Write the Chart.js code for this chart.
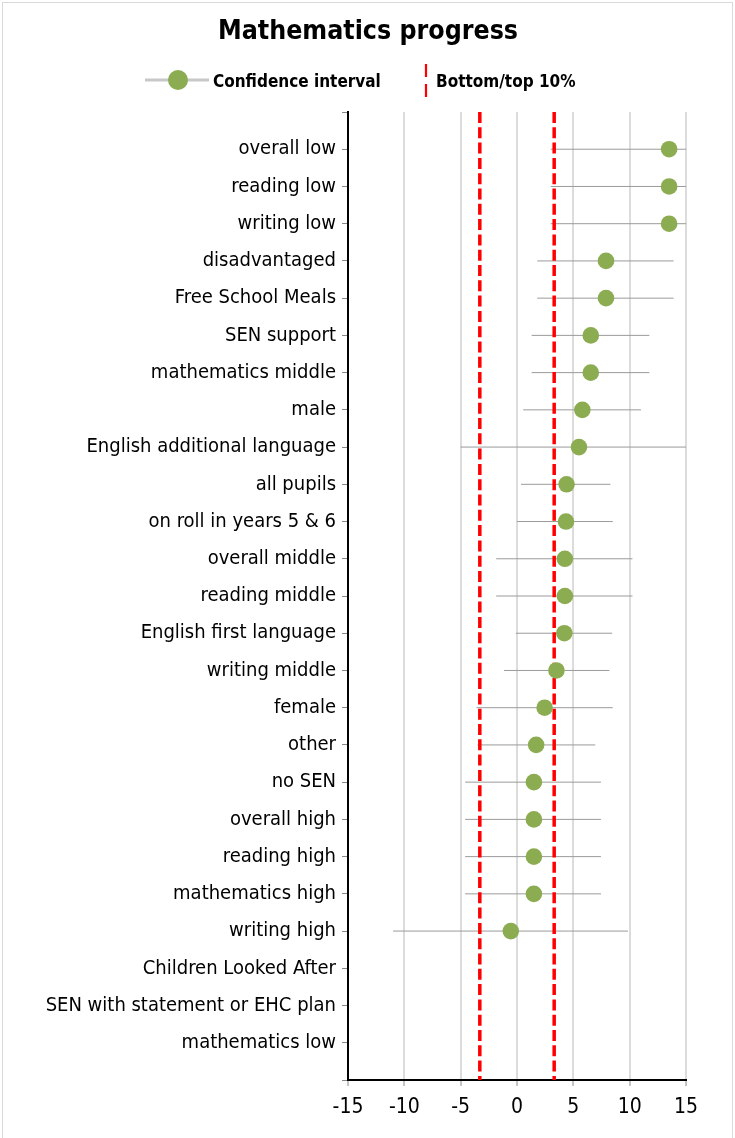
<!DOCTYPE html>
<html><head><meta charset="utf-8">
<script src="https://cdn.jsdelivr.net/npm/chart.js@4/dist/chart.umd.min.js"></script>
<style>html,body{margin:0;padding:0;background:#fff;}#wrap{position:relative;width:735px;height:1138px;}</style>
</head><body><div id="wrap"><canvas id="c" width="735" height="1138"></canvas></div>
<script>
const categories = ["overall low","reading low","writing low","disadvantaged","Free School Meals","SEN support","mathematics middle","male","English additional language","all pupils","on roll in years 5 & 6","overall middle","reading middle","English first language","writing middle","female","other","no SEN","overall high","reading high","mathematics high","writing high","Children Looked After","SEN with statement or EHC plan","mathematics low"];
const estimates = [13.5,13.5,13.5,7.9,7.9,6.55,6.55,5.8,5.5,4.4,4.35,4.25,4.25,4.2,3.5,2.45,1.7,1.5,1.5,1.5,1.5,-0.55,null,null,null];
const ciLower = [3.0,3.0,3.0,1.8,1.8,1.3,1.3,0.55,-5.0,0.35,0.0,-1.85,-1.85,-0.1,-1.15,-3.6,-3.5,-4.6,-4.6,-4.6,-4.6,-11.0,null,null,null];
const ciUpper = [15,15,15,13.9,13.9,11.75,11.75,11.0,15,8.3,8.5,10.25,10.25,8.45,8.2,8.5,6.95,7.45,7.45,7.45,7.45,9.85,null,null,null];
const thresholds = [-3.3, 3.3];
const xTickValues = [-15,-10,-5,0,5,10,15];
const titleText = "Mathematics progress";
const legendLabels = ["Confidence interval","Bottom/top 10%"];

const FONT = "'DejaVu Sans Condensed','DejaVu Sans',sans-serif";
const GREEN = '#8CAC52';
const nRows = categories.length;

const datasets = [];
// confidence interval segments
categories.forEach((c,i)=>{
  if (ciLower[i]==null) return;
  datasets.push({type:'line', data:[{x:ciLower[i],y:i+1},{x:ciUpper[i],y:i+1}], borderColor:'#9a9a9a', borderWidth:1, pointRadius:0, fill:false, order:3});
});
// thresholds
thresholds.forEach(t=>{
  datasets.push({type:'line', data:[{x:t,y:0},{x:t,y:nRows+1}], borderColor:'#ff0000', borderWidth:3.5, borderDash:[11,4.3], pointRadius:0, fill:false, order:2});
});
// estimates
datasets.push({type:'scatter', data: estimates.map((v,i)=> v==null?null:{x:v,y:i+1}).filter(p=>p), backgroundColor:GREEN, borderColor:GREEN, borderWidth:0, pointRadius:8.3, order:1});

const decor = {
  id:'decor',
  beforeDraw(chart){
    const ctx = chart.ctx;
    ctx.save();
    ctx.fillStyle='#fff'; ctx.fillRect(0,0,chart.width,chart.height);
    ctx.strokeStyle='#dadada'; ctx.lineWidth=1;
    ctx.strokeRect(2.5,2.5,730,1150);
    ctx.restore();
  },
  afterDraw(chart){
    const ctx = chart.ctx;
    ctx.save();
    ctx.fillStyle='#000';
    ctx.textAlign='center'; ctx.textBaseline='alphabetic';
    ctx.font = "bold 26.5px "+FONT;
    ctx.fillText(titleText, 368, 39);
    // legend item 1
    ctx.strokeStyle='#c8c8c8'; ctx.lineWidth=3;
    ctx.beginPath(); ctx.moveTo(145,80); ctx.lineTo(209,80); ctx.stroke();
    ctx.fillStyle=GREEN; ctx.beginPath(); ctx.arc(178,80,10,0,Math.PI*2); ctx.fill();
    ctx.fillStyle='#000'; ctx.textAlign='left';
    ctx.font = "bold 17px "+FONT;
    ctx.fillText(legendLabels[0], 213, 87);
    // legend item 2
    ctx.strokeStyle='#ff0000'; ctx.lineWidth=2.2; ctx.setLineDash([13,7]);
    ctx.beginPath(); ctx.moveTo(426,64); ctx.lineTo(426,98); ctx.stroke();
    ctx.setLineDash([]);
    ctx.fillText(legendLabels[1], 436, 87);
    ctx.restore();
  }
};

new Chart(document.getElementById('c'), {
  type:'scatter',
  data:{datasets},
  plugins:[decor],
  options:{
    responsive:false, animation:false, devicePixelRatio:1,
    layout:{padding:{top:112,right:49,left:0,bottom:0}},
    plugins:{legend:{display:false}, title:{display:false}, tooltip:{enabled:false}},
    scales:{
      x:{type:'linear', min:-15, max:15,
        afterBuildTicks(s){ s.ticks = xTickValues.map(v=>({value:v})); },
        afterFit(s){ s.height=58; s.paddingLeft=0; s.paddingRight=0; },
        grid:{color:'#dcdcdc', lineWidth:2, drawTicks:true, tickLength:6, tickColor:'#888', tickWidth:1},
        border:{color:'#000', width:2},
        ticks:{font:{family:FONT,size:21}, color:'#000', padding:9, maxRotation:0}
      },
      y:{type:'linear', min:0, max:nRows+1, reverse:true,
        afterBuildTicks(s){ const t=[]; for(let i=0;i<=nRows+1;i++) t.push({value:i}); s.ticks=t; },
        afterFit(s){ s.width=348; s.paddingTop=0; s.paddingBottom=0; },
        grid:{drawOnChartArea:false, drawTicks:true, tickLength:6, tickColor:'#888', tickWidth:1},
        border:{color:'#000', width:2},
        ticks:{autoSkip:false, font:{family:FONT,size:20}, color:'#000', padding:6,
          callback:(v)=> (v>=1 && v<=nRows) ? categories[v-1] : ''}
      }
    }
  }
});
</script></body></html>
